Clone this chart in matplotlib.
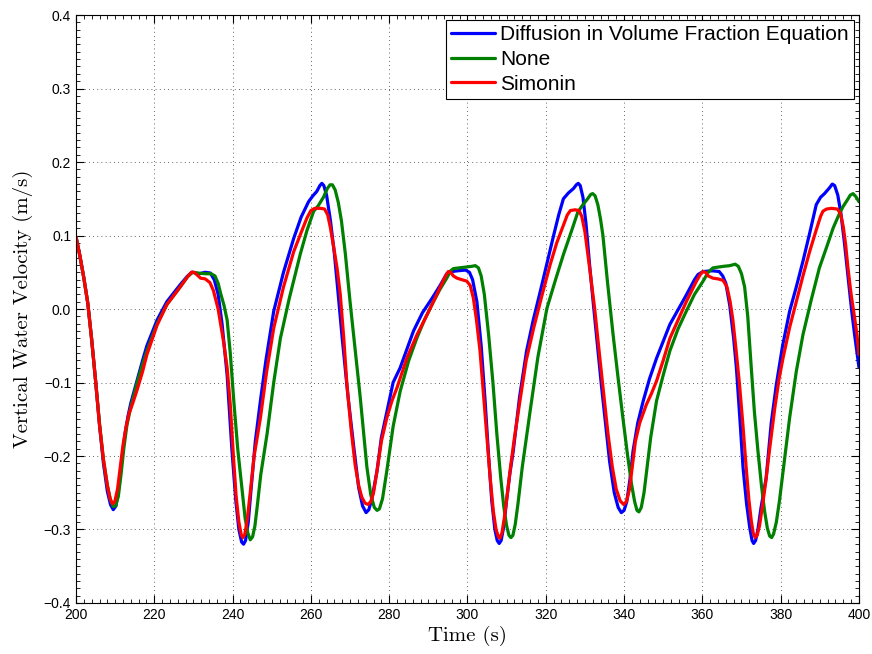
import matplotlib
matplotlib.use("Agg")
import matplotlib.pyplot as plt
from matplotlib.ticker import MultipleLocator

# Vertical water velocity time series (m/s) for three closure variants
t_diffusion = [200, 201, 202, 203, 204, 205, 206, 207, 208, 208.8, 209.5, 210.2, 211, 211.7,
               212.5, 213.3, 214, 215.6, 217, 218.1, 220.7, 223.2, 226.6, 228.5, 229.6, 230.5,
               231.5, 233, 234.3, 235.3, 236.3, 237.3, 238.6, 239.8, 240.8, 241.6, 242.3,
               242.8, 243.3, 244, 244.8, 245.8, 247.1, 248.5, 250.5, 253, 255.6, 257.5, 259.4,
               260.5, 261.5, 262.3, 262.8, 263.3, 264, 265, 266, 266.8, 268, 269.5, 271, 272.2,
               273.2, 274.1, 274.8, 275.6, 276.9, 278, 279.4, 281, 282.8, 284.5, 286.2, 288.5,
               291, 293, 294.7, 296, 297.5, 299.5, 300.5, 301.3, 302.4, 303.5, 304.5, 305.4,
               306.2, 307, 307.6, 308.1, 308.6, 309.3, 310, 310.8, 311.7, 313.3, 315.1, 316.8,
               318.6, 320.3, 322, 323.3, 324.5, 325.8, 327.1, 327.8, 328.3, 328.8, 329.5, 330.3,
               331.2, 332.1, 334.2, 336.3, 337.5, 338.5, 339.3, 340, 340.7, 341.5, 342.3, 343.5,
               344.9, 346.5, 348.3, 351.7, 355.9, 358, 358.9, 360.2, 362.5, 364.3, 365.2, 366,
               367, 368, 368.7, 369.6, 370.4, 371.3, 372.1, 372.7, 373.1, 373.6, 374.2, 375,
               376.3, 377.6, 378.9, 380.5, 382.3, 384, 385.7, 387.5, 389.1, 390.2, 391.2, 392.5,
               393.2, 393.8, 394.6, 395.4, 396.3, 397.2, 398.1, 398.9, 400]
v_diffusion = [0.098, 0.072, 0.042, 0.008, -0.042, -0.098, -0.158, -0.21, -0.248, -0.266, -0.273,
               -0.268, -0.24, -0.205, -0.17, -0.145, -0.128, -0.097, -0.07, -0.05, -0.015, 0.01,
               0.033, 0.045, 0.05, 0.049, 0.048, 0.05, 0.049, 0.04, 0.02, -0.02, -0.09, -0.19,
               -0.26, -0.3, -0.317, -0.32, -0.315, -0.29, -0.24, -0.18, -0.125, -0.07, -0.003,
               0.05, 0.096, 0.125, 0.146, 0.154, 0.16, 0.168, 0.171, 0.168, 0.155, 0.12, 0.075,
               0.03, -0.04, -0.12, -0.19, -0.243, -0.268, -0.277, -0.273, -0.258, -0.22, -0.175,
               -0.14, -0.1, -0.08, -0.055, -0.03, -0.005, 0.015, 0.032, 0.048, 0.051, 0.052,
               0.053, 0.05, 0.04, 0.01, -0.05, -0.125, -0.2, -0.261, -0.3, -0.315, -0.319, -0.315,
               -0.295, -0.26, -0.225, -0.193, -0.12, -0.057, -0.015, 0.024, 0.062, 0.10, 0.128,
               0.15, 0.158, 0.164, 0.169, 0.171, 0.168, 0.152, 0.115, 0.06, 0.01, -0.103, -0.207,
               -0.25, -0.27, -0.277, -0.274, -0.262, -0.232, -0.193, -0.155, -0.125, -0.095,
               -0.067, -0.021, 0.019, 0.04, 0.047, 0.051, 0.052, 0.051, 0.045, 0.035, 0.005,
               -0.04, -0.08, -0.15, -0.216, -0.265, -0.297, -0.315, -0.319, -0.315, -0.3, -0.27,
               -0.23, -0.155, -0.103, -0.05, -0.003, 0.03, 0.065, 0.105, 0.142, 0.152, 0.157,
               0.165, 0.17, 0.168, 0.155, 0.13, 0.09, 0.045, 0.0, -0.035, -0.079]

t_none = [200, 201, 202, 203, 204, 205, 206, 207, 208, 208.8, 209.5, 210.1, 210.8, 211.5, 212.2,
          213, 214, 215.6, 217, 218.1, 220.7, 223.2, 226.6, 228.5, 229.8, 231, 233, 234.5,
          235.5, 236.3, 237, 237.8, 238.6, 239.4, 240.3, 241.3, 242.4, 243.2, 243.9, 244.5,
          245.1, 245.7, 246.3, 247.2, 248.8, 250.5, 252.2, 254.5, 257.3, 259, 260.7, 261.8,
          263.2, 264.2, 264.9, 265.5, 266.2, 267, 267.8, 268.8, 270, 271.3, 272.6, 273.4,
          274.3, 275.3, 276.2, 276.9, 277.5, 278.3, 279.4, 281, 282.8, 285, 287.1, 289, 291.3,
          293, 294.7, 295.7, 296.4, 298, 299.8, 301, 302, 302.8, 303.5, 304.3, 305.4, 306.5,
          307.5, 308.5, 309.3, 310, 310.6, 311.1, 311.6, 312.2, 312.9, 314, 316, 318, 320.3,
          322.5, 324.5, 326.5, 328.2, 329.5, 330.7, 331.5, 332, 332.6, 333.3, 334, 334.6,
          335.8, 337.2, 338.5, 339.7, 340.8, 341.9, 342.7, 343.3, 343.8, 344.4, 345.1, 345.9,
          346.8, 348.3, 350, 351.7, 353.8, 355.9, 358, 360.2, 361.5, 362.7, 365.3, 367, 368.4,
          369.2, 370, 370.8, 371.6, 372.5, 373.3, 374.2, 375.1, 375.9, 376.6, 377.2, 377.7,
          378.2, 378.9, 379.7, 381, 382.3, 384, 385.7, 387.8, 389.9, 391.8, 393.4, 394.7,
          395.9, 397, 397.8, 398.5, 399.2, 400]
v_none = [0.098, 0.072, 0.042, 0.008, -0.042, -0.098, -0.156, -0.205, -0.24, -0.26, -0.269,
          -0.268, -0.255, -0.225, -0.19, -0.158, -0.133, -0.1, -0.075, -0.057, -0.02, 0.006,
          0.03, 0.044, 0.05, 0.049, 0.048, 0.048, 0.045, 0.035, 0.02, 0.005, -0.015, -0.06,
          -0.125, -0.19, -0.245, -0.285, -0.305, -0.314, -0.31, -0.295, -0.268, -0.225, -0.17,
          -0.1, -0.04, 0.015, 0.075, 0.107, 0.133, 0.14, 0.152, 0.164, 0.169, 0.169, 0.162,
          0.145, 0.12, 0.075, 0.01, -0.055, -0.12, -0.165, -0.215, -0.253, -0.27, -0.274,
          -0.272, -0.258, -0.22, -0.16, -0.112, -0.07, -0.039, -0.015, 0.01, 0.027, 0.042,
          0.052, 0.055, 0.056, 0.057, 0.058, 0.059, 0.056, 0.045, 0.02, -0.035, -0.1, -0.17,
          -0.23, -0.27, -0.295, -0.308, -0.311, -0.308, -0.293, -0.265, -0.215, -0.139, -0.065,
          0.001, 0.04, 0.074, 0.105, 0.132, 0.142, 0.15, 0.156, 0.157, 0.154, 0.142, 0.122,
          0.1, 0.035, -0.035, -0.095, -0.148, -0.195, -0.238, -0.262, -0.274, -0.276, -0.27,
          -0.25, -0.215, -0.175, -0.125, -0.09, -0.057, -0.027, -0.003, 0.02, 0.038, 0.05,
          0.056, 0.058, 0.059, 0.061, 0.058, 0.048, 0.03, -0.01, -0.08, -0.14, -0.193, -0.24,
          -0.275, -0.298, -0.309, -0.311, -0.306, -0.29, -0.261, -0.205, -0.148, -0.085,
          -0.035, 0.012, 0.056, 0.085, 0.11, 0.126, 0.139, 0.148, 0.155, 0.157, 0.153, 0.146]

t_simonin = [200, 201, 202, 203, 204, 205, 206, 207, 208, 208.7, 209.3, 209.9, 210.6, 211.3,
             212, 212.8, 213.5, 214.5, 215.6, 217, 218.1, 220.7, 223.2, 226.6, 228.5, 229.5,
             230.2, 231, 231.8, 233, 234.2, 235.1, 236.3, 237.7, 238.6, 239.4, 240.2, 240.9,
             241.6, 242.2, 242.6, 243.1, 243.7, 244.5, 245.5, 247.1, 248.7, 250.5, 253, 255.6,
             257.5, 259, 260, 261, 262.5, 263.5, 264.3, 265, 265.8, 266.7, 267.5, 268.4, 269.2,
             270.3, 271.3, 272.2, 273, 273.8, 274.6, 275.3, 276, 276.9, 278, 279.4, 280.7, 282,
             284.5, 287.1, 289, 291.3, 293.5, 294.5, 295.1, 295.7, 296.4, 297.3, 298.5, 299.8,
             300.7, 301.5, 302.3, 303.2, 304, 304.9, 305.8, 306.6, 307.3, 307.9, 308.3, 308.8,
             309.4, 310.1, 311, 312, 313.4, 315, 316.9, 319, 321.1, 322.8, 324.5, 325.5, 326.3,
             327.5, 328.5, 329.2, 330, 331.2, 332.5, 333.8, 335, 335.9, 337, 338, 339, 339.9,
             340.6, 341.4, 342.2, 342.9, 344, 345.7, 347, 348.3, 350, 351.7, 353.8, 355.9,
             358.5, 359.6, 360.2, 360.8, 361.5, 362.7, 364, 365.3, 366.3, 367.1, 367.8, 368.6,
             369.5, 370.4, 371.2, 371.9, 372.5, 373, 373.5, 374, 374.6, 375.3, 376.2, 377.2,
             378.5, 379.6, 380.6, 382.3, 384, 385.7, 387.4, 389, 390.2, 390.8, 391.7, 393,
             394.5, 395.3, 396, 396.6, 397.2, 398, 398.9, 399.5, 400]
v_simonin = [0.098, 0.072, 0.042, 0.008, -0.042, -0.098, -0.158, -0.205, -0.24, -0.258, -0.265,
             -0.262, -0.245, -0.215, -0.185, -0.16, -0.143, -0.128, -0.11, -0.085, -0.062,
             -0.022, 0.006, 0.03, 0.044, 0.05, 0.05, 0.046, 0.042, 0.041, 0.036, 0.025, 0.0,
             -0.045, -0.08, -0.13, -0.2, -0.255, -0.29, -0.307, -0.311, -0.307, -0.288, -0.25,
             -0.2, -0.148, -0.085, -0.026, 0.03, 0.078, 0.104, 0.124, 0.134, 0.137, 0.137,
             0.136, 0.128, 0.11, 0.085, 0.055, 0.02, -0.04, -0.103, -0.165, -0.212, -0.24,
             -0.256, -0.264, -0.266, -0.262, -0.25, -0.22, -0.18, -0.148, -0.125, -0.107,
             -0.067, -0.035, -0.015, 0.01, 0.035, 0.046, 0.051, 0.05, 0.045, 0.042, 0.04, 0.038,
             0.032, 0.015, -0.015, -0.057, -0.11, -0.17, -0.23, -0.275, -0.3, -0.31, -0.312,
             -0.305, -0.285, -0.255, -0.215, -0.175, -0.125, -0.07, -0.026, 0.018, 0.06, 0.09,
             0.114, 0.128, 0.134, 0.135, 0.134, 0.126, 0.105, 0.056, 0.0, -0.066, -0.125,
             -0.17, -0.215, -0.245, -0.261, -0.266, -0.262, -0.245, -0.21, -0.18, -0.155, -0.13,
             -0.115, -0.098, -0.07, -0.04, -0.015, 0.01, 0.038, 0.048, 0.051, 0.05, 0.045,
             0.042, 0.041, 0.039, 0.03, 0.01, -0.015, -0.055, -0.103, -0.16, -0.216, -0.26,
             -0.288, -0.305, -0.311, -0.308, -0.295, -0.27, -0.235, -0.19, -0.135, -0.095,
             -0.067, -0.025, 0.01, 0.045, 0.078, 0.106, 0.126, 0.133, 0.136, 0.137, 0.136,
             0.13, 0.112, 0.088, 0.056, 0.02, -0.012, -0.035, -0.062]

labels = ["Diffusion in Volume Fraction Equation", "None", "Simonin"]
colors = ["#0000ff", "#008000", "#ff0000"]

fig = plt.figure(figsize=(8.72, 6.54), dpi=100)
ax = fig.add_axes([0.0872, 0.078, 0.8978, 0.899])

series = [(t_diffusion, v_diffusion), (t_none, v_none), (t_simonin, v_simonin)]
for (t, v), lab, c in zip(series, labels, colors):
    ax.plot(t, v, color=c, lw=2.3, label=lab, solid_joinstyle="round",
            solid_capstyle="round")

ax.set_xlim(200, 400)
ax.set_ylim(-0.4, 0.4)
ax.xaxis.set_major_locator(MultipleLocator(20))
ax.xaxis.set_minor_locator(MultipleLocator(2))
ax.yaxis.set_major_locator(MultipleLocator(0.1))
ax.yaxis.set_minor_locator(MultipleLocator(0.01))
ax.tick_params(which="both", direction="in", top=True, right=True, colors="black",
               labelsize=10)
ax.tick_params(which="major", length=6, width=0.8)
ax.tick_params(which="minor", length=3, width=0.6)
for lab in ax.get_xticklabels() + ax.get_yticklabels():
    lab.set_fontfamily("Liberation Sans")

ax.grid(True, which="major", linestyle=(0, (1, 4)), color="black", linewidth=0.6, alpha=0.8)
for s in ax.spines.values():
    s.set_linewidth(0.8)

ax.set_xlabel("Time (s)", fontname="cmr10", fontsize=15, labelpad=3)
ax.set_ylabel("Vertical Water Velocity (m/s)", fontname="cmr10", fontsize=15, labelpad=8)

leg = ax.legend(loc="upper right", prop={"family": "Liberation Sans", "size": 15},
                frameon=True, fancybox=False, edgecolor="black", framealpha=1,
                borderpad=0.25, labelspacing=0.27, handlelength=2.1, handletextpad=0.25,
                borderaxespad=0.25)
leg.get_frame().set_linewidth(0.8)

fig.savefig("out.png", dpi=100)
